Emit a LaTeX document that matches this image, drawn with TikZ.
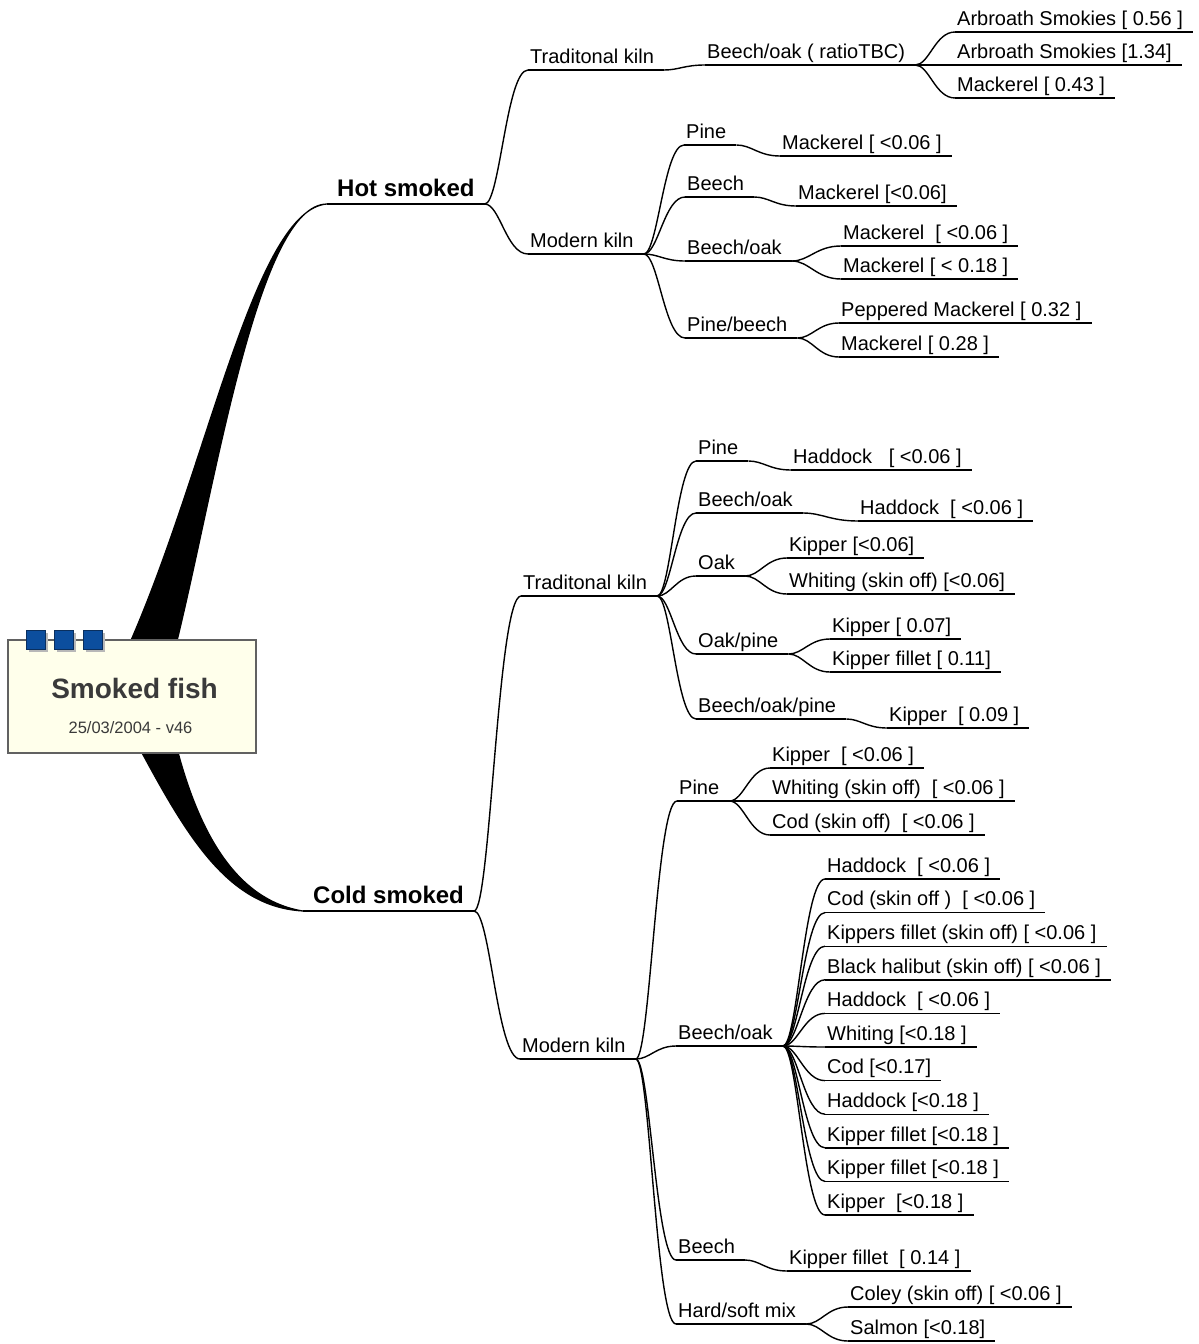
\documentclass[tikz,border=0pt]{standalone}
\usepackage{fontspec}
\setmainfont{Liberation Sans}
\usetikzlibrary{calc,backgrounds}
\definecolor{fishcream}{HTML}{FFFFEB}
\definecolor{fishblue}{HTML}{0C4E9E}
\definecolor{fishnavy}{HTML}{0A2F5E}
\definecolor{fishgrey}{HTML}{3A3A3A}
\definecolor{fishshade}{HTML}{B8B8B8}

% S-shaped connector from the end of one underline to the start of the next
\newcommand{\branch}[2]{%
  \draw[conn] let \p1=(#1.south east), \p2=(#2.south west),
    \n1={0.35*(\x2-\x1)}, \n2={0.5*(\x2-\x1)} in
    (\p1) .. controls +(\n1,0) and +(-\n2,0) .. (\p2);}

\begin{document}
\begin{tikzpicture}[x=1pt,y=-1pt,
  uline/.style={draw,line width=1.4pt},
  conn/.style={line width=1.4pt},
  topic/.style={anchor=south west,inner xsep=0pt,inner ysep=1.5pt,
    text height=15pt,text depth=5pt,font=\fontsize{20}{24}\selectfont,
    execute at begin node={\hspace*{2pt}},execute at end node={\hspace*{10pt}},
    append after command={(\tikzlastnode.south west) edge[uline] (\tikzlastnode.south east)}},
  mainbr/.style={anchor=south west,inner xsep=10pt,inner ysep=2pt,
    text height=18pt,text depth=5pt,font=\bfseries\fontsize{24}{28}\selectfont,
    append after command={(\tikzlastnode.south west) edge[uline,line width=2pt] (\tikzlastnode.south east)}},
  trunk/.style={fill=black,draw=black,line width=1.2pt,line join=round},
  rootbox/.style={draw=fishgrey!80,fill=fishcream,line width=1.2pt,
    minimum width=248pt,minimum height=113pt,inner sep=0pt},
  tab/.style={draw=fishnavy,fill=fishblue,line width=.8pt,minimum size=19pt,inner sep=0pt}]

  \useasboundingbox (0,0) rectangle (1199,1344);

  % central topic
  \node[rootbox] (root) at (132,696.5) {};
  \foreach \i/\sx in {1/35.5,2/64,3/93}{
    \fill[fishshade] ({\sx-7},632.5) rectangle +(19,19);
    \node[tab] (tab\i) at (\sx,640) {};
  }
  \node[anchor=base,text=fishgrey,font=\bfseries\fontsize{28}{32}\selectfont] (title) at (134.5,698) {Smoked fish};
  \node[anchor=base,text=fishgrey,font=\fontsize{16.5}{20}\selectfont] (stamp) at (130.5,733) {25/03/2004 - v46};

  % hot smoked
  \node[mainbr] (hot) at (327,204) {Hot smoked};
  \node[topic] (htk) at (528,70) {Traditonal kiln};
  \node[topic] (hbo) at (705,65) {Beech/oak ( ratioTBC)};
  \node[topic] (ha1) at (955,32) {Arbroath Smokies [ 0.56 ]};
  \node[topic] (ha2) at (955,65) {Arbroath Smokies [1.34]};
  \node[topic] (ha3) at (955,98) {Mackerel [ 0.43 ]};
  \node[topic] (hmk) at (528,254) {Modern kiln};
  \node[topic] (hpi) at (684,145) {Pine};
  \node[topic] (hpm) at (780,156) {Mackerel [ <0.06 ]};
  \node[topic] (hbe) at (685,197) {Beech};
  \node[topic] (hbm) at (796,206) {Mackerel [<0.06]};
  \node[topic] (hbk) at (685,261) {Beech/oak};
  \node[topic] (hk1) at (841,246) {Mackerel\ \ [ <0.06 ]};
  \node[topic] (hk2) at (841,279) {Mackerel [ < 0.18 ]};
  \node[topic] (hpb) at (685,338) {Pine/beech};
  \node[topic] (hp1) at (839,323) {Peppered Mackerel [ 0.32 ]};
  \node[topic] (hp2) at (839,357) {Mackerel [ 0.28 ]};

  % cold smoked
  \node[mainbr] (cold) at (303,911) {Cold smoked};
  \node[topic] (ctk) at (521,596) {Traditonal kiln};
  \node[topic] (cpi) at (696,461) {Pine};
  \node[topic] (cpl) at (791,470) {Haddock\ \ \ [ <0.06 ]};
  \node[topic] (cbo) at (696,513) {Beech/oak};
  \node[topic] (cbl) at (858,521) {Haddock\ \ [ <0.06 ]};
  \node[topic] (coa) at (696,576) {Oak};
  \node[topic] (co1) at (787,558) {Kipper [<0.06]};
  \node[topic] (co2) at (787,594) {Whiting (skin off) [<0.06]};
  \node[topic] (cop) at (696,654) {Oak/pine};
  \node[topic] (cp1) at (830,639) {Kipper [ 0.07]};
  \node[topic] (cp2) at (830,672) {Kipper fillet [ 0.11]};
  \node[topic] (cbp) at (696,719) {Beech/oak/pine};
  \node[topic] (cbq) at (887,728) {Kipper\ \ [ 0.09 ]};
  \node[topic] (cmk) at (520,1059) {Modern kiln};
  \node[topic] (mpi) at (677,801) {Pine};
  \node[topic] (mp1) at (770,768) {Kipper\ \ [ <0.06 ]};
  \node[topic] (mp2) at (770,801) {Whiting (skin off)\ \ [ <0.06 ]};
  \node[topic] (mp3) at (770,835) {Cod (skin off)\ \ [ <0.06 ]};
  \node[topic] (mbo) at (676,1046) {Beech/oak};
  \foreach \t [count=\i] in {{Haddock\ \ [ <0.06 ]},{Cod (skin off )\ \ [ <0.06 ]},
      {Kippers fillet (skin off) [ <0.06 ]},{Black halibut (skin off) [ <0.06 ]},
      {Haddock\ \ [ <0.06 ]},{Whiting [<0.18 ]},{Cod [<0.17]},{Haddock [<0.18 ]},
      {Kipper fillet [<0.18 ]},{Kipper fillet [<0.18 ]},{Kipper\ \ [<0.18 ]}}{
    \node[topic] (bl\i) at (825,{845.4+33.6*\i}) {\t};
    \branch{mbo}{bl\i}
  }
  \node[topic] (mbe) at (676,1260) {Beech};
  \node[topic] (mbl) at (787,1271) {Kipper fillet\ \ [ 0.14 ]};
  \node[topic] (mhs) at (676,1324) {Hard/soft mix};
  \node[topic] (mh1) at (848,1307) {Coley (skin off) [ <0.06 ]};
  \node[topic] (mh2) at (848,1341) {Salmon [<0.18]};

  \foreach \a/\b in {hot/htk,htk/hbo,hbo/ha1,hbo/ha2,hbo/ha3,hot/hmk,
      hmk/hpi,hpi/hpm,hmk/hbe,hbe/hbm,hmk/hbk,hbk/hk1,hbk/hk2,hmk/hpb,hpb/hp1,hpb/hp2,
      cold/ctk,ctk/cpi,cpi/cpl,ctk/cbo,cbo/cbl,ctk/coa,coa/co1,coa/co2,ctk/cop,cop/cp1,cop/cp2,
      ctk/cbp,cbp/cbq,cold/cmk,cmk/mpi,mpi/mp1,mpi/mp2,mpi/mp3,cmk/mbo,cmk/mbe,mbe/mbl,
      cmk/mhs,mhs/mh1,mhs/mh2}{
    \branch{\a}{\b}
  }

  % tapered main branches
  \begin{scope}[on background layer]
    \filldraw[trunk] ([xshift=170pt]root.north west) .. controls +(40,-165) and +(-68,0) .. (hot.south west)
      .. controls +(-72,6) and +(78,-180) .. ([xshift=124pt]root.north west) -- cycle;
    \filldraw[trunk] ([xshift=135pt]root.south west) .. controls +(47,87) and +(-73,-4) .. (cold.south west)
      .. controls +(-68,-11) and +(21,77) .. ([xshift=171pt]root.south west) -- cycle;
  \end{scope}
\end{tikzpicture}
\end{document}
